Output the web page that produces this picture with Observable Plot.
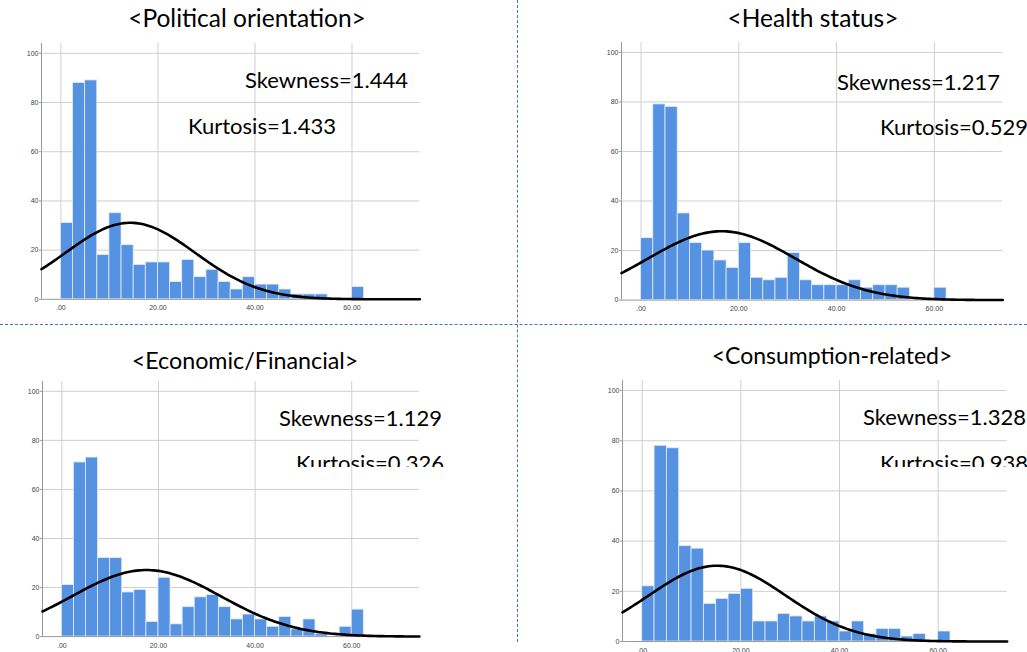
<!DOCTYPE html>
<html><head><meta charset="utf-8">
<script src="https://cdn.jsdelivr.net/npm/d3@7"></script>
<script src="https://cdn.jsdelivr.net/npm/@observablehq/plot@0.6"></script>
<style>
html,body{margin:0;padding:0;background:#fff;}
body{width:1027px;height:652px;overflow:hidden;position:relative;font-family:Lato,"Open Sans",sans-serif;}
.panel{position:absolute;}
.title{position:absolute;line-height:1;color:#000;white-space:nowrap;transform:translateX(-50%);}
.stat{position:absolute;font-size:22px;line-height:1;color:#000;white-space:nowrap;}
.clip{position:absolute;overflow:hidden;}
.vdiv{position:absolute;border-left:1.3px dashed #4472c4;}
.hdiv{position:absolute;border-top:1.6px dashed #4472c4;}
</style></head><body>
<script>
// ---- data ----
const binEdges = [0, 2.5, 5, 7.5, 10, 12.5, 15, 17.5, 20, 22.5, 25, 27.5, 30, 32.5, 35, 37.5, 40, 42.5, 45, 47.5, 50, 52.5, 55, 57.5, 60, 62.5];
const panelTitles = ["<Political orientation>", "<Health status>", "<Economic/Financial>", "<Consumption-related>"];
const politicalCounts   = [31, 88, 89, 18, 35, 22, 14, 15, 15, 7, 16, 9, 12, 7, 4, 9, 6, 6, 4, 2, 2, 2, 0, 0, 5];
const healthCounts      = [25, 79, 78, 35, 23, 20, 16, 13, 23, 9, 8, 9, 19, 8, 6, 6, 6, 8, 5, 6, 6, 5, 0, 0, 5];
const economicCounts    = [21, 71, 73, 32, 32, 18, 19, 6, 24, 5, 12, 16, 17, 12, 7, 9, 7, 4, 8, 3, 7, 1, 0, 4, 11];
const consumptionCounts = [22, 78, 77, 38, 37, 15, 17, 19, 21, 8, 8, 11, 10, 8, 10, 8, 4, 8, 3, 5, 5, 2, 3, 0, 4];
const curveMeans = [14.3, 16.5, 17.5, 15.2];
const curveSDs   = [13.4, 15.0, 15.4, 13.9];
const skewness = ["1.444", "1.217", "1.129", "1.328"];
const kurtosis = ["1.433", "0.529", "0.326", "0.938"];
const xTicks = [0, 20, 40, 60];
const yTicks = [0, 20, 40, 60, 80, 100];

const allCounts = [politicalCounts, healthCounts, economicCounts, consumptionCounts];

// ---- layout (pixels) ----
const layout = [
  {xL: 40.6, xR: 419.0, y0: 299.3, y100: 53.3},
  {xL: 621.4, xR: 1002.7, y0: 300.0, y100: 52.3},
  {xL: 42.4, xR: 419.3, y0: 636.0, y100: 390.7},
  {xL: 622.0, xR: 1006.7, y0: 641.0, y100: 390.0}
];
const titlePos = [{cx: 247, base: 28, size: 24.5}, {cx: 813, base: 28, size: 24.5}, {cx: 245, base: 370, size: 23.3}, {cx: 832, base: 364, size: 23}];
const skewPos = [{x: 245, base: 88.3}, {x: 837, base: 90}, {x: 279, base: 426}, {x: 863, base: 425}];
const kurtPos = [{x: 188, base: 134, clip: null}, {x: 880, base: 135, clip: null}, {x: 296, base: 471, clip: 466.7}, {x: 880, base: 471, clip: 467}];
const BASE_OFF = 19.5;

const xDomain = [-4, 74];
const yDomain = [0, 104];

function normalCurve(counts, mean, sd) {
  const n = d3.sum(counts);
  const bw = 2.5;
  const pts = [];
  for (let x = xDomain[0]; x <= xDomain[1] + 1e-9; x += 0.5) {
    const z = (x - mean) / sd;
    pts.push({x, y: n * bw * Math.exp(-0.5 * z * z) / (sd * Math.sqrt(2 * Math.PI))});
  }
  return pts;
}

allCounts.forEach((counts, i) => {
  const L = layout[i];
  const pxPerUnit = (L.y0 - L.y100) / 100;
  const topPx = L.y0 - yDomain[1] * pxPerUnit;
  const mL = 40, mT = 6, mB = 20, mR = 6;
  const width = (L.xR - L.xL) + mL + mR;
  const height = (L.y0 - topPx) + mT + mB;
  const bins = counts.map((c, k) => ({x1: binEdges[k], x2: binEdges[k + 1], count: c}));
  const curve = normalCurve(counts, curveMeans[i], curveSDs[i]);

  const chart = Plot.plot({
    width, height,
    marginLeft: mL, marginTop: mT, marginBottom: mB, marginRight: mR,
    x: {domain: xDomain},
    y: {domain: yDomain},
    style: {fontFamily: "'Liberation Sans', Arial, sans-serif", fontSize: "7px", color: "#555", background: "transparent", overflow: "visible"},
    marks: [
      Plot.gridY(yTicks.filter(d => d > 0), {stroke: "#cfcfcf", strokeOpacity: 1, strokeWidth: 1}),
      Plot.gridX(xTicks, {stroke: "#cfcfcf", strokeOpacity: 1, strokeWidth: 1}),
      Plot.rectY(bins, {x1: "x1", x2: "x2", y: "count", fill: "#5692e2", stroke: "#e4ecf8", strokeWidth: 0.8}),
      Plot.ruleX([xDomain[0]], {stroke: "#999", strokeWidth: 1}),
      Plot.ruleY([0], {stroke: "#999", strokeWidth: 1}),
      Plot.line(curve, {x: "x", y: "y", stroke: "#000", strokeWidth: 2.6}),
      Plot.axisX(xTicks, {tickSize: 0, tickPadding: 6, tickFormat: d => d === 0 ? ".00" : d.toFixed(2), fill: "#444"}),
      Plot.axisY(yTicks, {tickSize: 2, tickPadding: 1, stroke: "#999", fill: "#444"})
    ]
  });
  chart.classList.add("panel");
  chart.style.left = (L.xL - mL) + "px";
  chart.style.top = (topPx - mT) + "px";
  document.body.appendChild(chart);

  const tp = titlePos[i];
  const t = document.createElement("div");
  t.className = "title";
  t.textContent = panelTitles[i];
  t.style.fontSize = tp.size + "px";
  t.style.left = tp.cx + "px";
  t.style.top = (tp.base - tp.size * 0.887) + "px";
  document.body.appendChild(t);

  const s = document.createElement("div");
  s.className = "stat";
  s.textContent = "Skewness=" + skewness[i];
  s.style.left = skewPos[i].x + "px";
  s.style.top = (skewPos[i].base - BASE_OFF) + "px";
  document.body.appendChild(s);

  const kp = kurtPos[i];
  const k = document.createElement("div");
  k.className = "stat";
  k.textContent = "Kurtosis=" + kurtosis[i];
  if (kp.clip) {
    const c = document.createElement("div");
    c.className = "clip";
    const cTop = kp.base - BASE_OFF - 4;
    c.style.left = kp.x + "px";
    c.style.top = cTop + "px";
    c.style.width = "200px";
    c.style.height = (kp.clip - cTop) + "px";
    k.style.left = "0px";
    k.style.top = "4px";
    c.appendChild(k);
    document.body.appendChild(c);
  } else {
    k.style.left = kp.x + "px";
    k.style.top = (kp.base - BASE_OFF) + "px";
    document.body.appendChild(k);
  }
});

const v = document.createElement("div");
v.className = "vdiv";
v.style.left = "517px"; v.style.top = "0px"; v.style.height = "642px";
document.body.appendChild(v);
const h = document.createElement("div");
h.className = "hdiv";
h.style.left = "0px"; h.style.top = "324px"; h.style.width = "1027px";
document.body.appendChild(h);
</script>
</body></html>
